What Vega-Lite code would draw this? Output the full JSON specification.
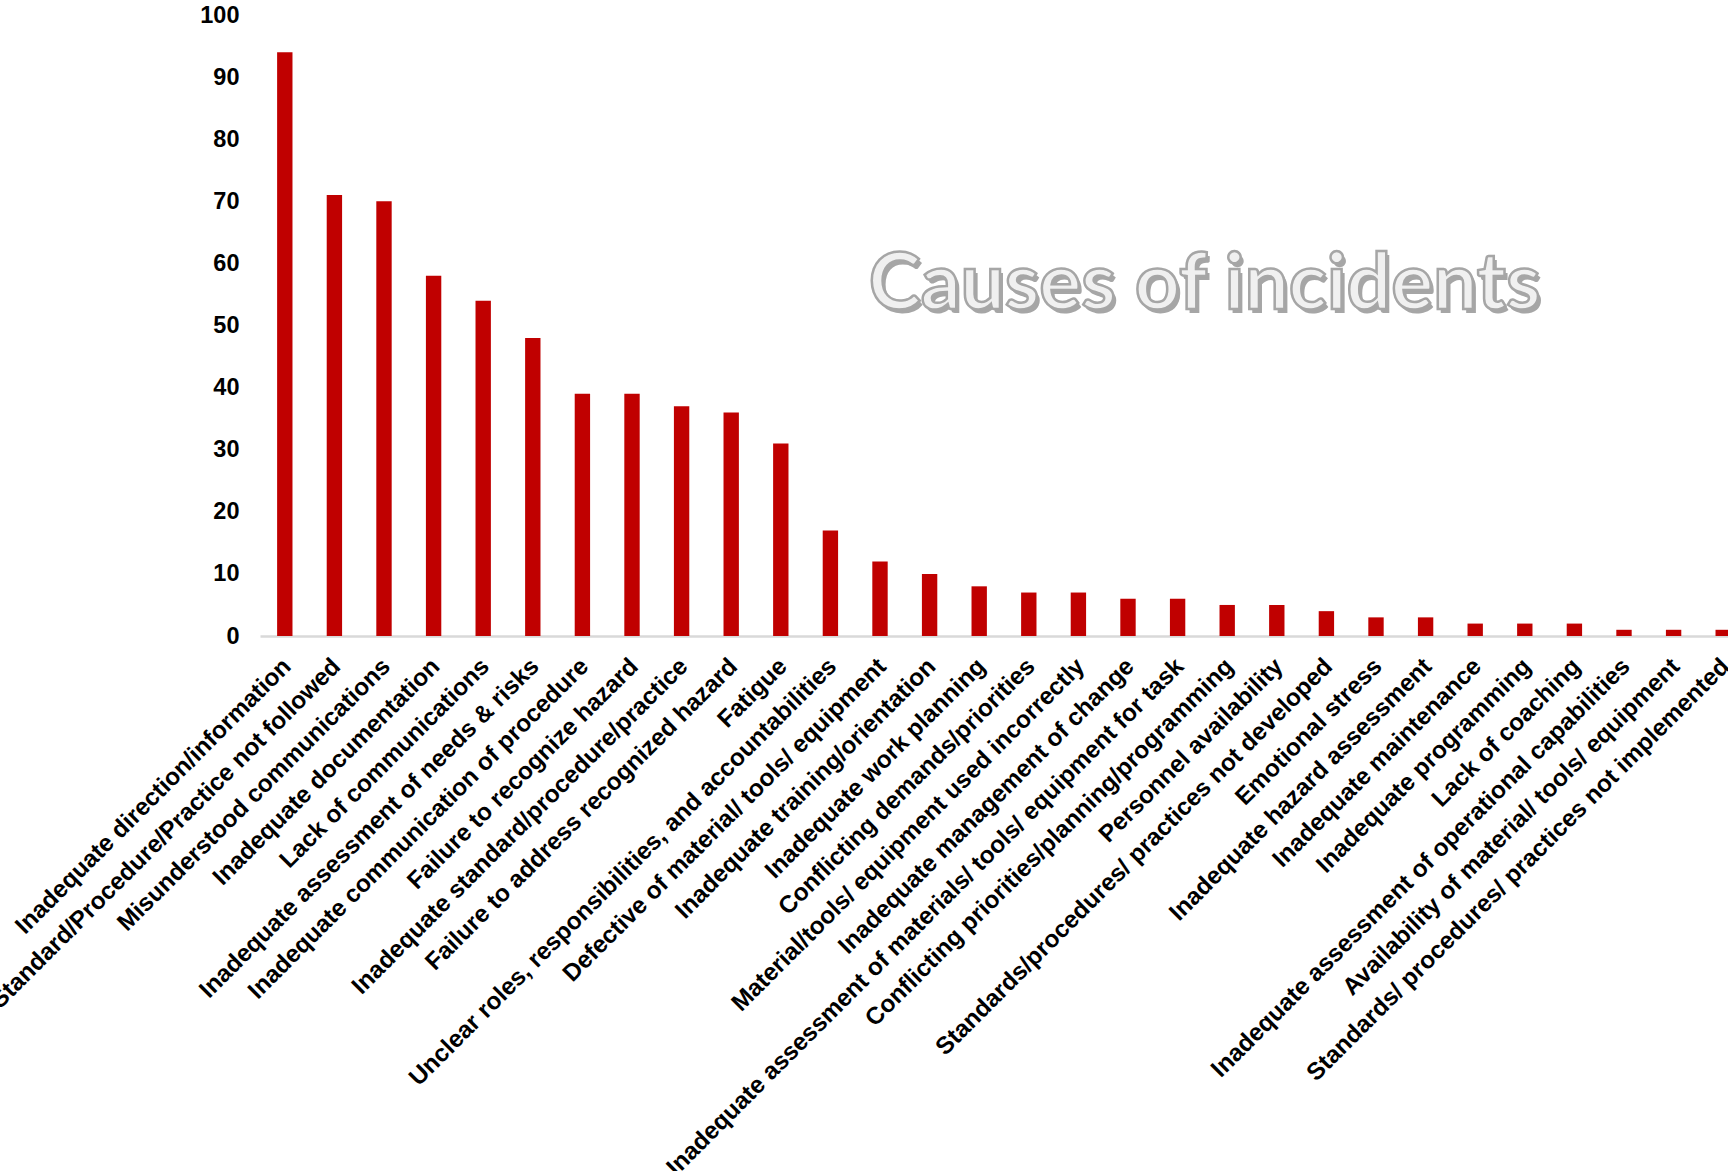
{
  "$schema": "https://vega.github.io/schema/vega-lite/v6.json",
  "autosize": "none",
  "width": 1468,
  "height": 621,
  "padding": {"left": 260, "top": 15, "right": 0, "bottom": 535},
  "background": "white",
  "config": {"view": {"stroke": null}, "font": "Liberation Sans"},
  "data": {"values": [
    {"cause": "Inadequate direction/information", "count": 94},
    {"cause": "Standard/Procedure/Practice not followed", "count": 71},
    {"cause": "Misunderstood communications", "count": 70},
    {"cause": "Inadequate documentation", "count": 58},
    {"cause": "Lack of communications", "count": 54},
    {"cause": "Inadequate assessment of needs & risks", "count": 48},
    {"cause": "Inadequate communication of procedure", "count": 39},
    {"cause": "Failure to recognize hazard", "count": 39},
    {"cause": "Inadequate standard/procedure/practice", "count": 37},
    {"cause": "Failure to address recognized hazard", "count": 36},
    {"cause": "Fatigue", "count": 31},
    {"cause": "Unclear roles, responsibilities, and accountabilities", "count": 17},
    {"cause": "Defective of material/ tools/ equipment", "count": 12},
    {"cause": "Inadequate training/orientation", "count": 10},
    {"cause": "Inadequate work planning", "count": 8},
    {"cause": "Conflicting demands/priorities", "count": 7},
    {"cause": "Material/tools/ equipment used incorrectly", "count": 7},
    {"cause": "Inadequate management of change", "count": 6},
    {"cause": "Inadequate assessment of materials/ tools/ equipment for task", "count": 6},
    {"cause": "Conflicting priorities/planning/programming", "count": 5},
    {"cause": "Personnel availability", "count": 5},
    {"cause": "Standards/procedures/ practices not developed", "count": 4},
    {"cause": "Emotional stress", "count": 3},
    {"cause": "Inadequate hazard assessment", "count": 3},
    {"cause": "Inadequate maintenance", "count": 2},
    {"cause": "Inadequate programming", "count": 2},
    {"cause": "Lack of coaching", "count": 2},
    {"cause": "Inadequate assessment of operational capabilities", "count": 1},
    {"cause": "Availability of material/ tools/ equipment", "count": 1},
    {"cause": "Standards/ procedures/ practices not implemented", "count": 1}
  ]},
  "layer": [
    {
      "mark": {"type": "bar", "color": "#C00000"},
      "encoding": {
        "x": {
          "field": "cause", "type": "nominal", "sort": null,
          "scale": {"range": [0, 1488], "paddingInner": 0.69, "paddingOuter": 0.345},
          "axis": {
            "title": null, "labelAngle": -45, "labelAlign": "right", "labelBaseline": "top",
            "labelFontSize": 24.3, "labelFontWeight": "bold", "labelColor": "#000000",
            "ticks": false, "domainColor": "#D9D9D9", "domainWidth": 2.5,
            "labelPadding": 18, "labelOffset": -6, "labelLimit": 2000, "labelOverlap": false
          }
        },
        "y": {
          "field": "count", "type": "quantitative",
          "scale": {"domain": [0, 100], "nice": false},
          "axis": {
            "title": null, "values": [0, 10, 20, 30, 40, 50, 60, 70, 80, 90, 100],
            "labelFontSize": 23.5, "labelFontWeight": "bold", "labelColor": "#000000",
            "domain": false, "ticks": false, "grid": false, "labelPadding": 21
          }
        }
      }
    },
    {
      "data": {"values": [{"t": "Causes of incidents"}]},
      "mark": {"type": "text", "font": "Lato", "fontWeight": "bold", "fontSize": 78.5, "fill": "#A6A6A6", "align": "center", "baseline": "alphabetic", "dx": 30, "dy": 4},
      "encoding": {
        "x": {"datum": "Inadequate assessment of materials/ tools/ equipment for task", "type": "nominal"},
        "y": {"datum": 52.7, "type": "quantitative"},
        "text": {"field": "t"}
      }
    },
    {
      "data": {"values": [{"t": "Causes of incidents"}]},
      "mark": {"type": "text", "font": "Lato", "fontWeight": "bold", "fontSize": 78.5, "fill": "#F0F0F0", "stroke": "#A6A6A6", "strokeWidth": 2.5, "align": "center", "baseline": "alphabetic", "dx": 27},
      "encoding": {
        "x": {"datum": "Inadequate assessment of materials/ tools/ equipment for task", "type": "nominal"},
        "y": {"datum": 52.7, "type": "quantitative"},
        "text": {"field": "t"}
      }
    }
  ]
}
